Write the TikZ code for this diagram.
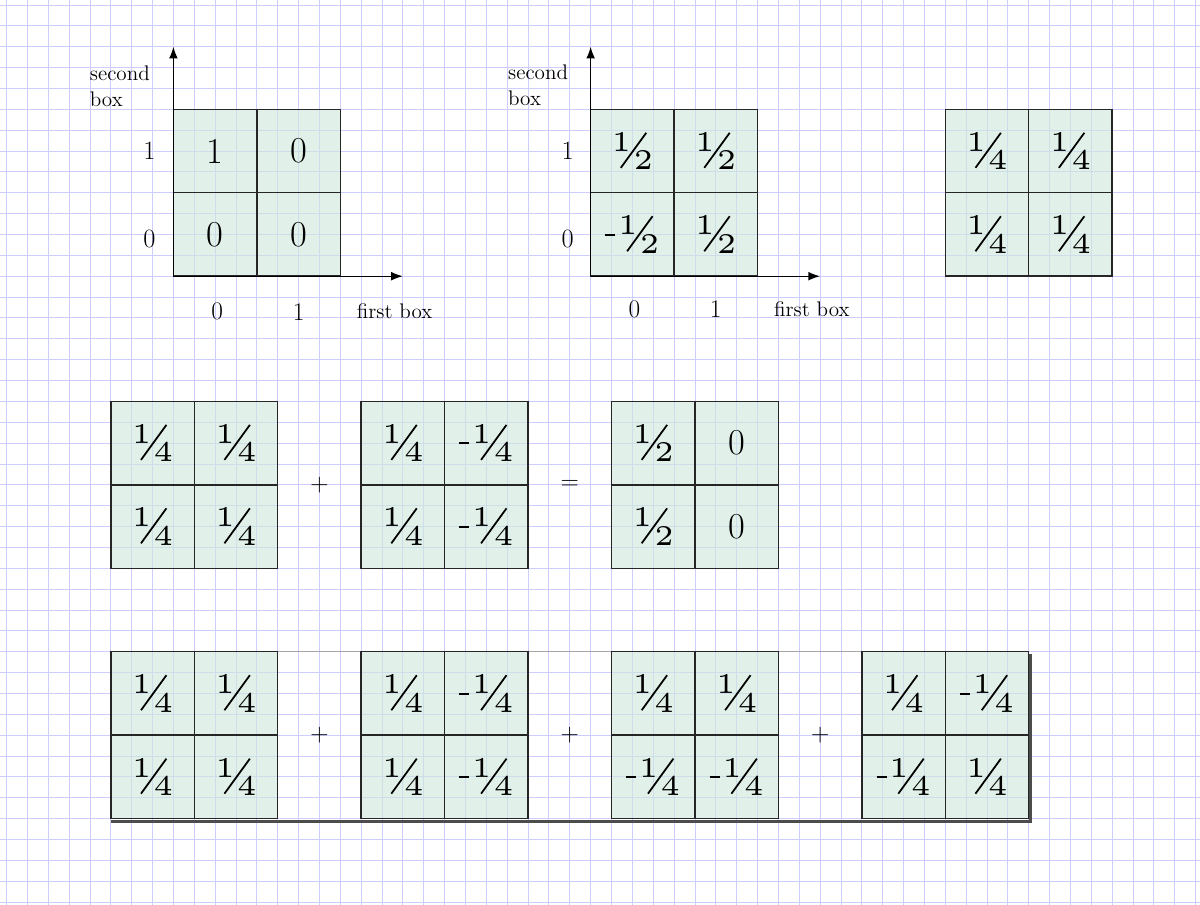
\documentclass[tikz,border=0pt]{standalone}
\usepackage{amsmath}
\usepackage{graphicx}
\usetikzlibrary{arrows.meta}

\definecolor{gridblue}{RGB}{205,205,255}
\definecolor{cellgreen}{RGB}{205,232,220}

% slanted fraction and the small minus in front of it
\newcommand{\fr}[2]{\scalebox{3.9}{\tiny#1}\kern.8pt\makebox[0pt]{\kern1.6pt\raisebox{-11.6pt}{\rotatebox{54}{\rule{29.5pt}{1.2pt}}}}\kern.8pt\raisebox{-12.6pt}{\scalebox{3.9}{\tiny#2}}}
\newcommand{\mn}{\rule[-.15pt]{1.75pt}{.36pt}\kern.45pt}

% box of four cells: name, x, y (top left corner), then the four entries
\newcommand{\cellbox}[7]{%
  \draw[boxline,fill=cellgreen,fill opacity=.6] (#2,#3) rectangle ++(8,-8);
  \draw[boxline] (#2+4,#3) -- ++(0,-8) (#2,#3-4) -- ++(8,0);
  \node[entry] (#1-tl) at (#2+2,#3-2) {#4};
  \node[entry] (#1-tr) at (#2+6,#3-2) {#5};
  \node[entry] (#1-bl) at (#2+2,#3-6) {#6};
  \node[entry] (#1-br) at (#2+6,#3-6) {#7};
}

\begin{document}
\begin{tikzpicture}[scale=.5,
    boxline/.style={line width=1pt,draw=black!85},
    entry/.style={inner sep=0pt,font=\Huge},
    axis/.style={line width=.9pt,-{Latex[length=8pt,width=6pt]}},
    tick/.style={font=\LARGE},
    axlabel/.style={font=\Large,align=left},
    op/.style={font=\LARGE}]
    \useasboundingbox (-0.312,0.24) rectangle (57.21,-43.14);

    % Graph paper
    \draw[gridblue,line width=.6pt] (-0.312,0.24) grid (57.21,-43.14);

    % First box pair with its axes
    \cellbox{A}{8}{-5}{1}{0}{0}{0}
    \coordinate (Ao) at (8,-13);  % origin
    \coordinate (Ay) at (8,-2);   % second box
    \coordinate (Ax) at (19,-13); % first box
    \draw[axis] (Ao) -- (Ay);
    \draw[axis] (Ao) -- (Ax);
    \node[axlabel,anchor=west] (A-ylab) at (3.75,-3.9) {second\\box};
    \node[axlabel] (A-xlab) at (18.6,-14.7) {first box};
    \node[tick,font=\fontsize{18}{20}\selectfont] (A-y1) at (6.85,-7) {1};
    \node[tick,font=\fontsize{18}{20}\selectfont] (A-y0) at (6.85,-11.2) {0};
    \node[tick] (A-x0) at (10.1,-14.7) {0};
    \node[tick] (A-x1) at (14,-14.7) {1};

    % Second box pair with its axes
    \cellbox{B}{28}{-5}{\fr{1}{2}}{\fr{1}{2}}{\fr{\mn 1}{2}}{\fr{1}{2}}
    \coordinate (Bo) at (28,-13);
    \coordinate (By) at (28,-2);
    \coordinate (Bx) at (39,-13);
    \draw[axis] (Bo) -- (By);
    \draw[axis] (Bo) -- (Bx);
    \node[axlabel,anchor=west] (B-ylab) at (23.8,-3.85) {second\\box};
    \node[axlabel] (B-xlab) at (38.6,-14.6) {first box};
    \node[tick,font=\fontsize{18}{20}\selectfont] (B-y1) at (26.9,-7) {1};
    \node[tick,font=\fontsize{18}{20}\selectfont] (B-y0) at (26.9,-11.2) {0};
    \node[tick] (B-x0) at (30.1,-14.6) {0};
    \node[tick] (B-x1) at (34,-14.6) {1};

    % Uniform box
    \cellbox{C}{45}{-5}{\fr{1}{4}}{\fr{1}{4}}{\fr{1}{4}}{\fr{1}{4}}

    % Sum of two
    \cellbox{D}{5}{-19}{\fr{1}{4}}{\fr{1}{4}}{\fr{1}{4}}{\fr{1}{4}}
    \cellbox{E}{17}{-19}{\fr{1}{4}}{\fr{\mn 1}{4}}{\fr{1}{4}}{\fr{\mn 1}{4}}
    \cellbox{F}{29}{-19}{\fr{1}{2}}{0}{\fr{1}{2}}{0}
    \node[op] (plusDE) at (15,-23) {$+$};
    \node[op] (eqEF) at (27,-23) {$=$};

    % Sum of four, in a frame with a shadow
    \draw[black!35,line width=.8pt] (5,-31) -- (49,-31);
    \draw[black!70,line width=2pt] (5,-39.12) -- (49.08,-39.12) -- (49.08,-31.1);
    \cellbox{G}{5}{-31}{\fr{1}{4}}{\fr{1}{4}}{\fr{1}{4}}{\fr{1}{4}}
    \cellbox{H}{17}{-31}{\fr{1}{4}}{\fr{\mn 1}{4}}{\fr{1}{4}}{\fr{\mn 1}{4}}
    \cellbox{I}{29}{-31}{\fr{1}{4}}{\fr{1}{4}}{\fr{\mn 1}{4}}{\fr{\mn 1}{4}}
    \cellbox{J}{41}{-31}{\fr{1}{4}}{\fr{\mn 1}{4}}{\fr{\mn 1}{4}}{\fr{1}{4}}
    \node[op] (plusGH) at (15,-35) {$+$};
    \node[op] (plusHI) at (27,-35) {$+$};
    \node[op] (plusIJ) at (39,-35) {$+$};
\end{tikzpicture}
\end{document}
